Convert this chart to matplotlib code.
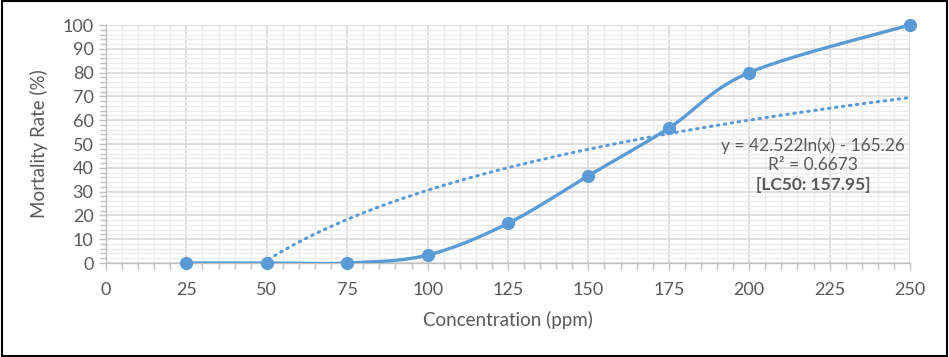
import numpy as np
import matplotlib
matplotlib.use("Agg")
import matplotlib.pyplot as plt
from matplotlib.ticker import MultipleLocator
from matplotlib.patches import Rectangle

plt.rcParams['font.family'] = ['Lato', 'DejaVu Sans']

concentration = [25, 50, 75, 100, 125, 150, 175, 200, 250]
mortality = [0, 0, 0, 3.33, 16.67, 36.67, 56.67, 80, 100]
eq_text = "y = 42.522ln(x) - 165.26"
r2_text = "R² = 0.6673"
lc50_text = "[LC50: 157.95]"
x_label = "Concentration (ppm)"
y_label = "Mortality Rate (%)"

blue = '#5B9BD5'
txt = '#595959'

def catmull_rom(xs, ys, n=40):
    P = np.column_stack([xs, ys]).astype(float)
    P = np.vstack([P[0], P, P[-1]])
    out = []
    for i in range(1, len(P) - 2):
        p0, p1, p2, p3 = P[i-1], P[i], P[i+1], P[i+2]
        c1 = p1 + (p2 - p0) / 6
        c2 = p2 - (p3 - p1) / 6
        t = np.linspace(0, 1, n)[:, None]
        seg = (1-t)**3*p1 + 3*(1-t)**2*t*c1 + 3*(1-t)*t**2*c2 + t**3*p2
        out.append(seg if i == 1 else seg[1:])
    s = np.vstack(out)
    return s[:, 0], s[:, 1]

fig = plt.figure(figsize=(9.49, 3.57), dpi=100)
ax = fig.add_axes([106/949, 1-263/357, (910-106)/949, (263-25)/357])

ax.set_xlim(0, 250)
ax.set_ylim(0, 100)
ax.xaxis.set_major_locator(MultipleLocator(25))
ax.xaxis.set_minor_locator(MultipleLocator(5))
ax.yaxis.set_major_locator(MultipleLocator(10))
ax.yaxis.set_minor_locator(MultipleLocator(2))
ax.grid(which='minor', color='#EDEDED', linewidth=1.0)
ax.grid(which='major', color='#D9D9D9', linewidth=1.2)
ax.set_axisbelow(True)
for s in ['top', 'right']:
    ax.spines[s].set_visible(False)
for s in ['left', 'bottom']:
    ax.spines[s].set_color('#BFBFBF')
    ax.spines[s].set_linewidth(1.0)
ax.tick_params(which='both', color='#BFBFBF', labelcolor=txt, labelsize=13)
ax.tick_params(which='major', length=5, width=1)
ax.tick_params(which='minor', length=4, width=1)
ax.tick_params(axis='x', pad=9)
ax.tick_params(axis='y', pad=4)

# trendline (log fit)
lx = np.log(np.array(concentration, float))
a, b = np.polyfit(lx, np.array(mortality, float), 1)
x0 = np.exp(-b / a)
xt = np.linspace(x0, 250, 300)
ax.plot(xt, a*np.log(xt) + b, color=blue, linestyle=(0, (0.5, 1.8)),
        linewidth=2.2, dash_capstyle='round', zorder=3)

sx, sy = catmull_rom(concentration, mortality)
ax.plot(sx, sy, color=blue, linewidth=2.4, zorder=4, solid_capstyle='round')
ax.plot(concentration, mortality, 'o', color=blue, markersize=8.5, zorder=5, clip_on=False)

ax.text(219.8, 49.2, eq_text, ha='center', va='center', color=txt, fontsize=12.5)
ax.text(219.8, 41.0, r2_text, ha='center', va='center', color=txt, fontsize=12.5)
ax.text(219.8, 32.8, lc50_text, ha='center', va='center', color=txt, fontsize=12.5, fontweight='bold')

ax.set_xlabel(x_label, color=txt, fontsize=13.5, labelpad=9)
ax.set_ylabel(y_label, color=txt, fontsize=13.5, labelpad=10)

fig.patches.append(Rectangle((0.002, 0.004), 0.996, 0.992, transform=fig.transFigure,
                             fill=False, edgecolor='black', linewidth=1.5))

fig.savefig('out.png', dpi=100)
